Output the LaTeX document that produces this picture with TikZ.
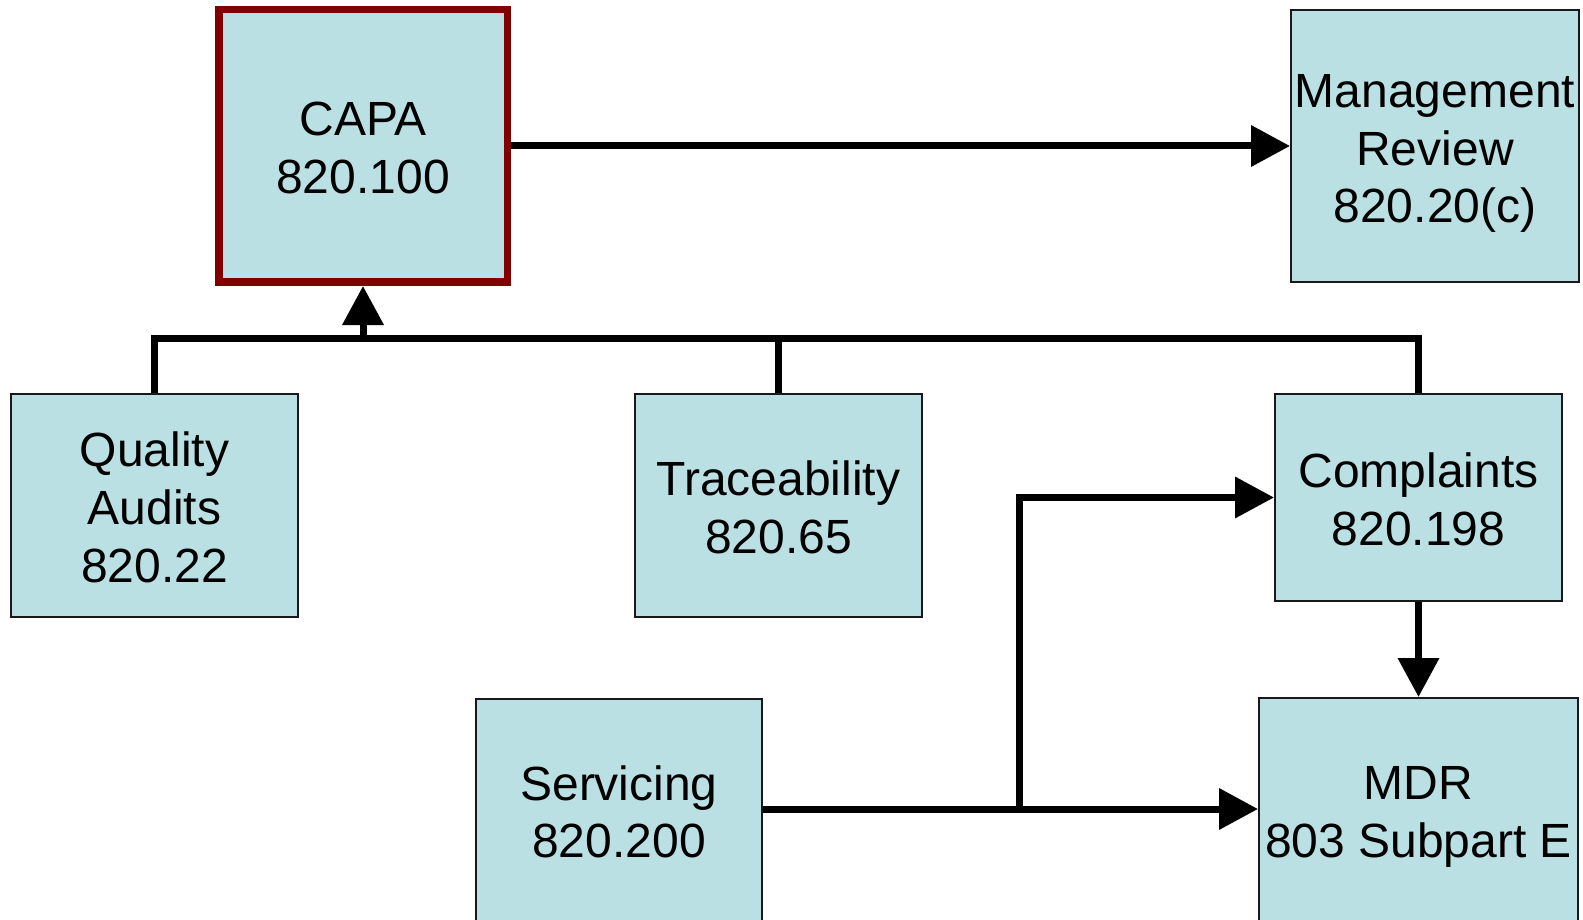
\documentclass[tikz,border=0pt]{standalone}
\usepackage{fontspec}
\setmainfont{Liberation Sans}
\usetikzlibrary{arrows.meta}
\definecolor{boxfill}{RGB}{186,224,227}
\definecolor{capared}{RGB}{128,0,0}
\newcommand{\txtdown}[1]{\rule{0pt}{\dimexpr 34.4pt+#1pt*2\relax}}
\tikzset{
  box/.style={draw=black!90, line width=2pt, fill=boxfill, rectangle, inner sep=0pt,
    align=center, font=\fontsize{48}{57.6}\selectfont},
  capabox/.style={box, draw=capared, line width=7.5pt},
  conn/.style={draw=black, line width=7pt},
  arr/.style={conn, -{Triangle[length=39pt,width=40pt]}}
}
\begin{document}
\begin{tikzpicture}[x=1pt,y=-1pt]
\useasboundingbox (0,0) rectangle (1583,920);
\node[capabox, minimum width=288.5pt, minimum height=272.5pt] (capa) at (363,146) {\txtdown{1.5}CAPA\\820.100};
\node[box, minimum width=288pt, minimum height=272pt] (mr) at (1435,146) {\txtdown{7}Management\\Review\\820.20(c)};
\node[box, minimum width=287pt, minimum height=223pt] (qa) at (154.5,505.5) {\txtdown{2}Quality\\Audits\\820.22};
\node[box, minimum width=287pt, minimum height=223pt] (tr) at (778.5,505.5) {\txtdown{2}Traceability\\820.65};
\node[box, minimum width=287pt, minimum height=207pt] (cmp) at (1418.5,497.5) {\txtdown{2}Complaints\\820.198};
\node[box, minimum width=286pt, minimum height=226pt] (serv) at (619,812) {Servicing\\820.200};
\node[box, minimum width=319pt, minimum height=230pt] (mdr) at (1418.5,813) {\txtdown{3.5}MDR\\803 Subpart E};
\coordinate (bus) at (0,338);
\coordinate (j) at (1019,809);
% CAPA -> Management Review
\draw[arr] (capa.east) -- (mr.west);
% bus to CAPA
\draw[conn] (qa.north) |- (cmp.north |- bus) -- (cmp.north);
\draw[conn] (tr.north) -- (tr.north |- bus);
\draw[arr] (capa.south |- bus) -- (capa.south);
% Complaints -> MDR
\draw[arr] (cmp.south) -- (mdr.north);
% Servicing -> MDR and Complaints
\draw[arr] (serv.east |- j) -- (mdr.west |- j);
\draw[arr] (j) |- (cmp.west);
\end{tikzpicture}
\end{document}
